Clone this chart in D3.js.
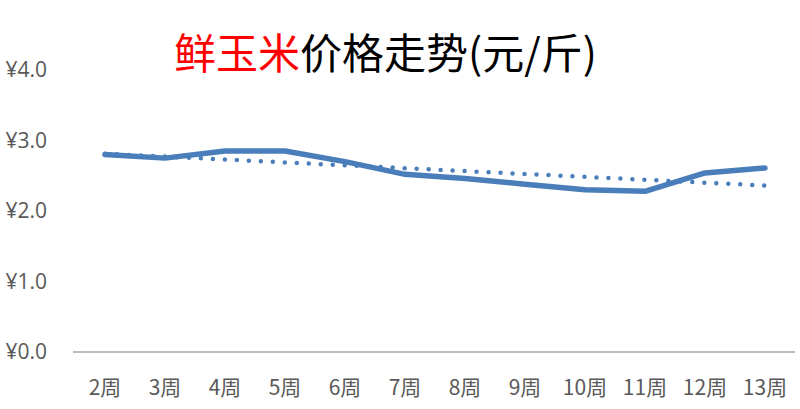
<!DOCTYPE html>
<html><head><meta charset="utf-8">
<script src="https://cdnjs.cloudflare.com/ajax/libs/d3/7.8.5/d3.min.js"></script>
<style>
html,body{margin:0;padding:0;background:#fff;}
svg{display:block;}
</style></head>
<body>
<svg id="chart" width="800" height="409"></svg>
<script>
const categories = ["2周","3周","4周","5周","6周","7周","8周","9周","10周","11周","12周","13周"];
const prices = [2.80, 2.75, 2.85, 2.85, 2.70, 2.52, 2.46, 2.38, 2.30, 2.28, 2.54, 2.61];
const yTicks = [0, 1, 2, 3, 4];
const titleRed = "鲜玉米";
const titleBlack = "价格走势(元/斤)";

const svg = d3.select("#chart");
const margin = {left: 75, right: 5, top: 70, bottom: 57};
const W = 800, H = 409;

const x = d3.scaleBand().domain(categories).range([margin.left, W - margin.right]);
const y = d3.scaleLinear().domain([0, 4]).range([H - margin.bottom, margin.top]);
const cx = d => x(d) + x.bandwidth() / 2;

// Title
const title = svg.append("text")
  .attr("x", 174).attr("y", 69)
  .attr("text-anchor", "start")
  .style("font-family", "'Noto Sans CJK SC', sans-serif")
  .style("font-size", "42px");
title.append("tspan").attr("fill", "#ff0000").text(titleRed);
title.append("tspan").attr("fill", "#000000").text(titleBlack);

// Y axis labels
const yAxis = d3.axisLeft(y).tickValues(yTicks).tickSize(0).tickPadding(0)
  .tickFormat(d => "¥" + d3.format(".1f")(d));
const gy = svg.append("g").attr("transform", "translate(47,0)").call(yAxis);
gy.select(".domain").remove();
gy.selectAll("text")
  .attr("fill", "#595959")
  .style("font-family", "'Open Sans', 'Noto Sans', sans-serif")
  .style("font-size", "21px");

// X axis
const xAxis = d3.axisBottom(x).tickSize(0).tickPadding(0);
const gx = svg.append("g").attr("transform", `translate(0,${y(0)})`).call(xAxis);
gx.select(".domain").attr("stroke", "#a6a6a6").attr("stroke-width", 1.5)
  .attr("d", `M${margin.left-2},0H${W - margin.right}`);
gx.selectAll("text")
  .attr("fill", "#595959")
  .attr("dy", 0)
  .attr("y", 43)
  .style("font-family", "'Noto Sans CJK SC', sans-serif")
  .style("font-size", "21px");

// Linear trendline (least squares on the series)
const n = prices.length;
const xs = d3.range(1, n + 1);
const mx = d3.mean(xs), my = d3.mean(prices);
const slope = d3.sum(xs, (xi, i) => (xi - mx) * (prices[i] - my)) / d3.sum(xs, xi => (xi - mx) ** 2);
const intercept = my - slope * mx;
const trend = [
  {c: categories[0], v: intercept + slope * 1},
  {c: categories[n - 1], v: intercept + slope * n}
];

const line = d3.line().x(d => cx(d.c)).y(d => y(d.v));

svg.append("path")
  .datum(trend)
  .attr("d", line)
  .attr("fill", "none")
  .attr("stroke", "#4a7ebb")
  .attr("stroke-width", 4.5)
  .attr("stroke-linecap", "round")
  .attr("stroke-dasharray", "0,12");

svg.append("path")
  .datum(categories.map((c, i) => ({c, v: prices[i]})))
  .attr("d", line)
  .attr("fill", "none")
  .attr("stroke", "#4a7ebb")
  .attr("stroke-width", 5.5)
  .attr("stroke-linejoin", "round")
  .attr("stroke-linecap", "round");
</script>
</body></html>
